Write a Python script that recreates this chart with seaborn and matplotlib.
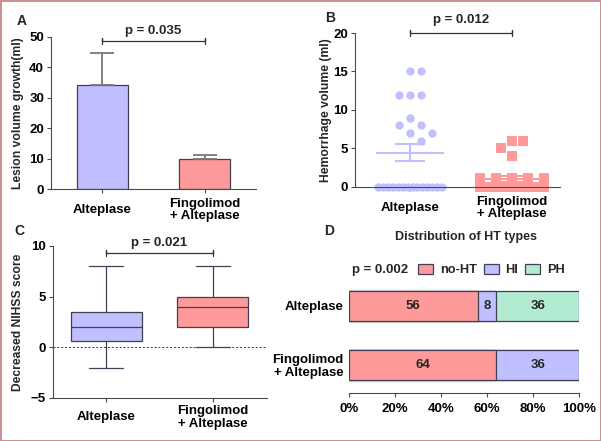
import numpy as np
import pandas as pd
import matplotlib
matplotlib.use('Agg')
import matplotlib.pyplot as plt
from matplotlib.patches import Patch
import seaborn as sns

# ---- data ----
groups = ['Alteplase', 'Fingolimod\n+ Alteplase']

# A: lesion volume growth (mean, SEM)
lesion_mean = [34.3, 10.0]
lesion_sem = [10.4, 1.3]

# B: hemorrhage volume, individual patients
hem_alteplase = [15, 15, 12, 12, 12, 9, 8, 8, 7, 7, 6] + [0] * 14
hem_fingolimod = [6, 6, 5, 4, 1.2, 1.2, 1.2, 1.2, 1.2] + [0] * 16

# C: decreased NIHSS score (box summary)
nihss_low = [-2, 0]
nihss_q1 = [0.6, 2]
nihss_med = [2, 4]
nihss_q3 = [3.5, 5]
nihss_high = [8, 8]

# D: distribution of HT types (%)
ht_types = ['no-HT', 'HI', 'PH']
ht_alteplase = [56, 8, 36]
ht_fingolimod = [64, 36, 0]

p_values = ['p = 0.035', 'p = 0.012', 'p = 0.021', 'p = 0.002']

# ---- style ----
lav = '#c0c0ff'
salmon = '#ff9a9a'
mint = '#b2ead2'
edge = '#404055'
spine = '#4a4a4a'
sns.set_style('ticks')
plt.rcParams['font.family'] = ['Liberation Sans', 'DejaVu Sans']
plt.rcParams['font.weight'] = 'bold'
plt.rcParams['axes.labelweight'] = 'bold'
plt.rcParams['font.size'] = 9
plt.rcParams['axes.edgecolor'] = spine
plt.rcParams['xtick.color'] = spine
plt.rcParams['ytick.color'] = spine
plt.rcParams['xtick.labelcolor'] = 'black'
plt.rcParams['ytick.labelcolor'] = 'black'
plt.rcParams['xtick.major.size'] = 3
plt.rcParams['ytick.major.size'] = 3

W, H = 601, 441
fig = plt.figure(figsize=(W / 100, H / 100), dpi=100,
                 linewidth=2, edgecolor='#c99393', facecolor='white')


def box(l, t, r, b):
    return [l / W, 1 - b / H, (r - l) / W, (b - t) / H]


def bracket(ax, y, d, text, off):
    ax.plot([0, 0, 0, 1, 1, 1], [y - d, y + d, y, y, y + d, y - d],
            color='#333333', lw=0.9, clip_on=False)
    ax.annotate(text, (0.5, y), xytext=(0, off), textcoords='offset points',
                ha='center', va='center', fontsize=9.5, fontweight='bold')


def style_axes(ax, pad):
    sns.despine(ax=ax)
    ax.set_xlabel('')
    ax.tick_params(axis='x', labelsize=9.5, pad=pad)
    ax.tick_params(axis='y', labelsize=9.5, pad=2)
    for lab in ax.get_xticklabels():
        lab.set_linespacing(1.05)
        lab.set_verticalalignment('center')


def dot_layout(values, center, ax, col_px=11, min_px=9, crowd=5, crowd_w=0.62):
    # simple beeswarm: crowded identical values spread evenly, others stacked in columns
    xw = ax.bbox.width / np.diff(ax.get_xlim())[0]
    yh = ax.bbox.height / np.diff(ax.get_ylim())[0]
    vals = pd.Series(values)
    counts = vals.value_counts()
    xs, ys = [], []
    placed = []
    for v in sorted(vals.unique(), reverse=True):
        k = counts[v]
        if k >= crowd:
            for off in np.linspace(-crowd_w / 2, crowd_w / 2, k):
                xs.append(center + off)
                ys.append(v)
            continue
        for _ in range(k):
            for c in [0, 1, -1, 2, -2, 3, -3]:
                px, py = c * col_px, v * yh
                if all(np.hypot(px - qx, py - qy) >= min_px for qx, qy in placed):
                    placed.append((px, py))
                    xs.append(center + px / xw)
                    ys.append(v)
                    break
    return xs, ys


# ---- A ----
axA = fig.add_axes(box(51, 36.7, 256, 189))
dfA = pd.DataFrame({'group': groups, 'value': lesion_mean})
sns.barplot(data=dfA, x='group', y='value', hue='group', palette=[lav, salmon],
            width=0.5, edgecolor=edge, linewidth=0.9, saturation=1,
            legend=False, ax=axA)
axA.errorbar([0, 1], lesion_mean, yerr=[[0, 0], lesion_sem], fmt='none',
             ecolor='#777777', elinewidth=1.3, capsize=8.5, capthick=1.3)
axA.set_xlim(-0.5, 1.5)
axA.set_ylim(0, 50)
axA.set_yticks(range(0, 51, 10))
axA.set_ylabel('Lesion volume growth(ml)', fontsize=8.7, labelpad=4)
style_axes(axA, 12)
bracket(axA, 48.5, 1.0, p_values[0], 7.5)

# ---- B ----
axB = fig.add_axes(box(355, 33, 560, 187))
axB.set_xlim(-0.54, 1.47)
axB.set_ylim(0, 20)
dfB = pd.DataFrame({
    'group': [groups[0]] * len(hem_alteplase) + [groups[1]] * len(hem_fingolimod),
    'value': hem_alteplase + hem_fingolimod})
for i, (g, c, m, s) in enumerate(zip(groups, [lav, salmon], ['o', 's'], [36, 42])):
    xs, ys = dot_layout(dfB.loc[dfB['group'] == g, 'value'].tolist(), i, axB)
    axB.scatter(xs, ys, s=s, marker=m, color=c, linewidths=0, zorder=2,
                clip_on=False)
stats = dfB.groupby('group', sort=False)['value'].agg(['mean', 'sem'])
for i, (g, c) in enumerate(zip(groups, [lav, salmon])):
    m, s = stats.loc[g, 'mean'], stats.loc[g, 'sem']
    axB.hlines(m, i - 0.33, i + 0.33, color=c, lw=1.5, zorder=3)
    axB.hlines([m - s, m + s], i - 0.15, i + 0.15, color=c, lw=1.5, zorder=3)
    axB.vlines(i, m - s, m + s, color=c, lw=1.5, zorder=3)
axB.set_xticks([0, 1])
axB.set_xticklabels(groups)
axB.set_yticks(range(0, 21, 5))
axB.set_ylabel('Hemorrhage volume (ml)', fontsize=8.7, labelpad=1)
style_axes(axB, 12)
bracket(axB, 20, 0.4, p_values[1], 9)

# ---- C ----
axC = fig.add_axes(box(53, 246, 267, 398))
bxp_stats = [dict(whislo=lo, q1=a, med=m, q3=b, whishi=hi, label=g)
             for lo, a, m, b, hi, g in zip(nihss_low, nihss_q1, nihss_med,
                                            nihss_q3, nihss_high, groups)]
parts = axC.bxp(bxp_stats, positions=[0, 1], widths=0.67, capwidths=0.32,
                showfliers=False, patch_artist=True,
                boxprops=dict(edgecolor=edge, linewidth=0.9),
                whiskerprops=dict(color=edge, linewidth=0.9),
                capprops=dict(color=edge, linewidth=0.9),
                medianprops=dict(color=edge, linewidth=0.9))
for patch, c in zip(parts['boxes'], [lav, salmon]):
    patch.set_facecolor(c)
axC.axhline(0, color='#333333', lw=0.7, ls=(0, (2, 2)), zorder=0)
axC.set_xlim(-0.5, 1.51)
axC.set_ylim(-5, 10)
axC.set_yticks([-5, 0, 5, 10])
axC.set_ylabel('Decreased NIHSS score', fontsize=8.7, labelpad=5)
style_axes(axC, 11)
bracket(axC, 9.3, 0.3, p_values[2], 7.5)

# ---- D ----
axD = fig.add_axes(box(349, 276.5, 579, 393))
dfD = pd.DataFrame({'group': groups,
                    'no-HT': [ht_alteplase[0], ht_fingolimod[0]],
                    'HI': [ht_alteplase[1], ht_fingolimod[1]],
                    'PH': [ht_alteplase[2], ht_fingolimod[2]]})
cum = dfD[ht_types].cumsum(axis=1)
colors = [salmon, lav, mint]
for t, c in reversed(list(zip(ht_types, colors))):
    sns.barplot(x=cum[t], y=dfD['group'], orient='h', color=c, width=0.5,
                edgecolor=edge, linewidth=0.9, saturation=1, ax=axD)
for i in range(len(groups)):
    start = 0
    for t in ht_types:
        v = dfD.loc[i, t]
        if v > 0:
            axD.text(start + v / 2, i, f'{v:g}', ha='center', va='center',
                     fontsize=9.5, fontweight='bold')
        start += v
axD.set_xlim(0, 100)
axD.set_ylim(1.475, -0.5)
axD.set_xticks(range(0, 101, 20))
axD.set_xticklabels([f'{v}%' for v in range(0, 101, 20)])
axD.set_xlabel('')
axD.set_ylabel('')
sns.despine(ax=axD, left=True)
axD.tick_params(axis='y', length=0, labelsize=9.5, pad=4)
axD.tick_params(axis='x', labelsize=9.5, pad=4)
for lab in axD.get_yticklabels():
    lab.set_linespacing(1.05)
    lab.set_horizontalalignment('right')

fig.text(466 / W, 1 - 237 / H, 'Distribution of HT types', ha='center',
         va='center', fontsize=9, fontweight='bold')
fig.text(352 / W, 1 - 270 / H, p_values[3], ha='left', va='center',
         fontsize=9.5, fontweight='bold')
handles = [Patch(facecolor=c, edgecolor=edge, linewidth=0.9, label=t)
           for t, c in zip(ht_types, colors)]
fig.legend(handles=handles, loc='center left',
           bbox_to_anchor=(418 / W, 1 - 270 / H), ncol=3, frameon=False,
           fontsize=9.2, handlelength=1.2, handleheight=0.85,
           handletextpad=0.5, columnspacing=0.55, borderpad=0, borderaxespad=0)

# panel letters
for x, y, s in [(22, 21, 'A'), (330, 18, 'B'), (19, 231, 'C'), (329, 231, 'D')]:
    fig.text(x / W, 1 - y / H, s, ha='center', va='center', fontsize=10,
             fontweight='bold')

fig.savefig('out.png', dpi=100)
